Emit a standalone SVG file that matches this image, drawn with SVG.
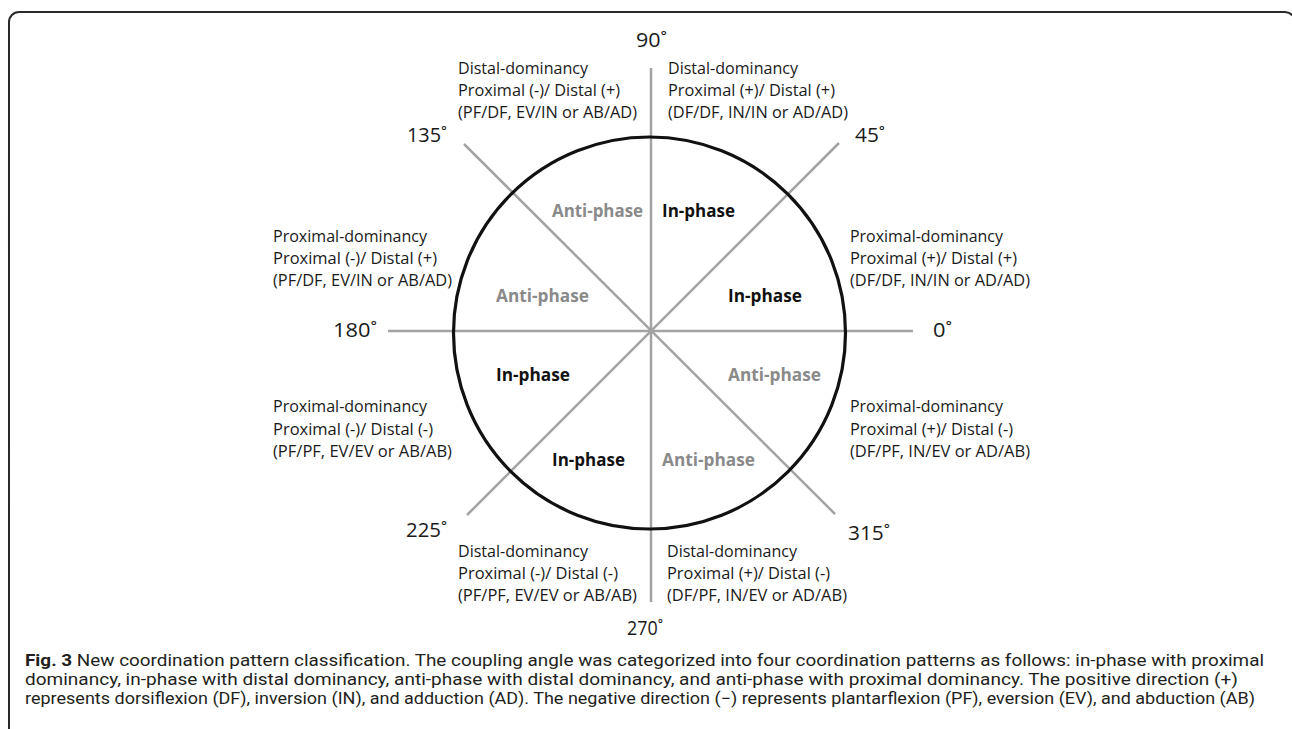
<svg xmlns="http://www.w3.org/2000/svg" width="1292" height="729" viewBox="0 0 1292 729">
<style>
.axis{stroke:#a3a3a3;stroke-width:2.5;fill:none;stroke-linecap:butt}
.ring{stroke:#111;stroke-width:3.2;fill:none}
.lbl{font-family:"Open Sans","Noto Sans",sans-serif;font-size:16.5px;fill:#1a1a1a}
.ang{font-family:"Open Sans","Noto Sans",sans-serif;font-size:20.5px;fill:#1a1a1a}
.in{font-family:"Open Sans","Noto Sans",sans-serif;font-size:17px;font-weight:bold;fill:#111}
.anti{font-family:"Open Sans","Noto Sans",sans-serif;font-size:17px;font-weight:bold;fill:#8a8a8a}
.cap{font-family:Roboto,"Liberation Sans",sans-serif;font-size:16.5px;fill:#231f20}
</style>
<rect id="frame" x="9" y="12" width="1286" height="740" rx="10" ry="10" fill="#fff" stroke="#2a2a2a" stroke-width="2"/>
<g id="connectors">
<line class="axis" x1="651" y1="68" x2="651" y2="602"/>
<line class="axis" x1="388" y1="331" x2="913" y2="331"/>
<line class="axis" x1="464" y1="144" x2="835" y2="514"/>
<line class="axis" x1="839" y1="143" x2="467" y2="515"/>
</g>
<g id="circle"><circle class="ring" cx="649.5" cy="333" r="196"/></g>
<g id="angles">
<text class="ang" x="636" y="47" textLength="31" lengthAdjust="spacingAndGlyphs">90˚</text>
<text class="ang" x="855" y="142" textLength="30" lengthAdjust="spacingAndGlyphs">45˚</text>
<text class="ang" x="933" y="337" textLength="19" lengthAdjust="spacingAndGlyphs">0˚</text>
<text class="ang" x="848" y="540" textLength="42" lengthAdjust="spacingAndGlyphs">315˚</text>
<text class="ang" x="627" y="635" textLength="36" lengthAdjust="spacingAndGlyphs">270˚</text>
<text class="ang" x="406" y="537" textLength="41" lengthAdjust="spacingAndGlyphs">225˚</text>
<text class="ang" x="333" y="337" textLength="44" lengthAdjust="spacingAndGlyphs">180˚</text>
<text class="ang" x="407" y="142" textLength="40" lengthAdjust="spacingAndGlyphs">135˚</text>
</g>
<g id="phases">
<text class="anti" x="552" y="217" textLength="91" lengthAdjust="spacingAndGlyphs">Anti-phase</text>
<text class="in" x="662" y="217" textLength="73" lengthAdjust="spacingAndGlyphs">In-phase</text>
<text class="anti" x="496" y="302" textLength="93" lengthAdjust="spacingAndGlyphs">Anti-phase</text>
<text class="in" x="728" y="302" textLength="74" lengthAdjust="spacingAndGlyphs">In-phase</text>
<text class="in" x="496" y="381" textLength="74" lengthAdjust="spacingAndGlyphs">In-phase</text>
<text class="anti" x="728" y="381" textLength="93" lengthAdjust="spacingAndGlyphs">Anti-phase</text>
<text class="in" x="552" y="466" textLength="73" lengthAdjust="spacingAndGlyphs">In-phase</text>
<text class="anti" x="662" y="466" textLength="93" lengthAdjust="spacingAndGlyphs">Anti-phase</text>
</g>
<g id="q-top-left">
<text class="lbl" x="458" y="74" textLength="130" lengthAdjust="spacingAndGlyphs">Distal-dominancy</text>
<text class="lbl" x="458" y="96" textLength="162" lengthAdjust="spacingAndGlyphs">Proximal (-)/ Distal (+)</text>
<text class="lbl" x="458" y="118" textLength="179" lengthAdjust="spacingAndGlyphs">(PF/DF, EV/IN or AB/AD)</text>
</g>
<g id="q-top-right">
<text class="lbl" x="668" y="74" textLength="130" lengthAdjust="spacingAndGlyphs">Distal-dominancy</text>
<text class="lbl" x="668" y="96" textLength="167" lengthAdjust="spacingAndGlyphs">Proximal (+)/ Distal (+)</text>
<text class="lbl" x="668" y="118" textLength="180" lengthAdjust="spacingAndGlyphs">(DF/DF, IN/IN or AD/AD)</text>
</g>
<g id="q-left-upper">
<text class="lbl" x="273" y="242" textLength="154" lengthAdjust="spacingAndGlyphs">Proximal-dominancy</text>
<text class="lbl" x="273" y="264" textLength="164" lengthAdjust="spacingAndGlyphs">Proximal (-)/ Distal (+)</text>
<text class="lbl" x="273" y="286" textLength="179" lengthAdjust="spacingAndGlyphs">(PF/DF, EV/IN or AB/AD)</text>
</g>
<g id="q-right-upper">
<text class="lbl" x="850" y="242" textLength="153" lengthAdjust="spacingAndGlyphs">Proximal-dominancy</text>
<text class="lbl" x="850" y="264" textLength="167" lengthAdjust="spacingAndGlyphs">Proximal (+)/ Distal (+)</text>
<text class="lbl" x="850" y="286" textLength="180" lengthAdjust="spacingAndGlyphs">(DF/DF, IN/IN or AD/AD)</text>
</g>
<g id="q-left-lower">
<text class="lbl" x="273" y="412" textLength="154" lengthAdjust="spacingAndGlyphs">Proximal-dominancy</text>
<text class="lbl" x="273" y="435" textLength="160" lengthAdjust="spacingAndGlyphs">Proximal (-)/ Distal (-)</text>
<text class="lbl" x="273" y="457" textLength="179" lengthAdjust="spacingAndGlyphs">(PF/PF, EV/EV or AB/AB)</text>
</g>
<g id="q-right-lower">
<text class="lbl" x="850" y="412" textLength="153" lengthAdjust="spacingAndGlyphs">Proximal-dominancy</text>
<text class="lbl" x="850" y="435" textLength="163" lengthAdjust="spacingAndGlyphs">Proximal (+)/ Distal (-)</text>
<text class="lbl" x="850" y="457" textLength="180" lengthAdjust="spacingAndGlyphs">(DF/PF, IN/EV or AD/AB)</text>
</g>
<g id="q-bottom-left">
<text class="lbl" x="458" y="557" textLength="130" lengthAdjust="spacingAndGlyphs">Distal-dominancy</text>
<text class="lbl" x="458" y="579" textLength="160" lengthAdjust="spacingAndGlyphs">Proximal (-)/ Distal (-)</text>
<text class="lbl" x="458" y="601" textLength="179" lengthAdjust="spacingAndGlyphs">(PF/PF, EV/EV or AB/AB)</text>
</g>
<g id="q-bottom-right">
<text class="lbl" x="667" y="557" textLength="130" lengthAdjust="spacingAndGlyphs">Distal-dominancy</text>
<text class="lbl" x="667" y="579" textLength="163" lengthAdjust="spacingAndGlyphs">Proximal (+)/ Distal (-)</text>
<text class="lbl" x="667" y="601" textLength="180" lengthAdjust="spacingAndGlyphs">(DF/PF, IN/EV or AD/AB)</text>
</g>
<g id="caption">
<text class="cap" x="25" y="665.5" textLength="1239" lengthAdjust="spacingAndGlyphs"><tspan font-weight="bold">Fig. 3</tspan> New coordination pattern classification. The coupling angle was categorized into four coordination patterns as follows: in-phase with proximal</text>
<text class="cap" x="25" y="684.5" textLength="1213" lengthAdjust="spacingAndGlyphs">dominancy, in-phase with distal dominancy, anti-phase with distal dominancy, and anti-phase with proximal dominancy. The positive direction (+)</text>
<text class="cap" x="25" y="703.5" textLength="1230" lengthAdjust="spacingAndGlyphs">represents dorsiflexion (DF), inversion (IN), and adduction (AD). The negative direction (−) represents plantarflexion (PF), eversion (EV), and abduction (AB)</text>
</g>
</svg>
